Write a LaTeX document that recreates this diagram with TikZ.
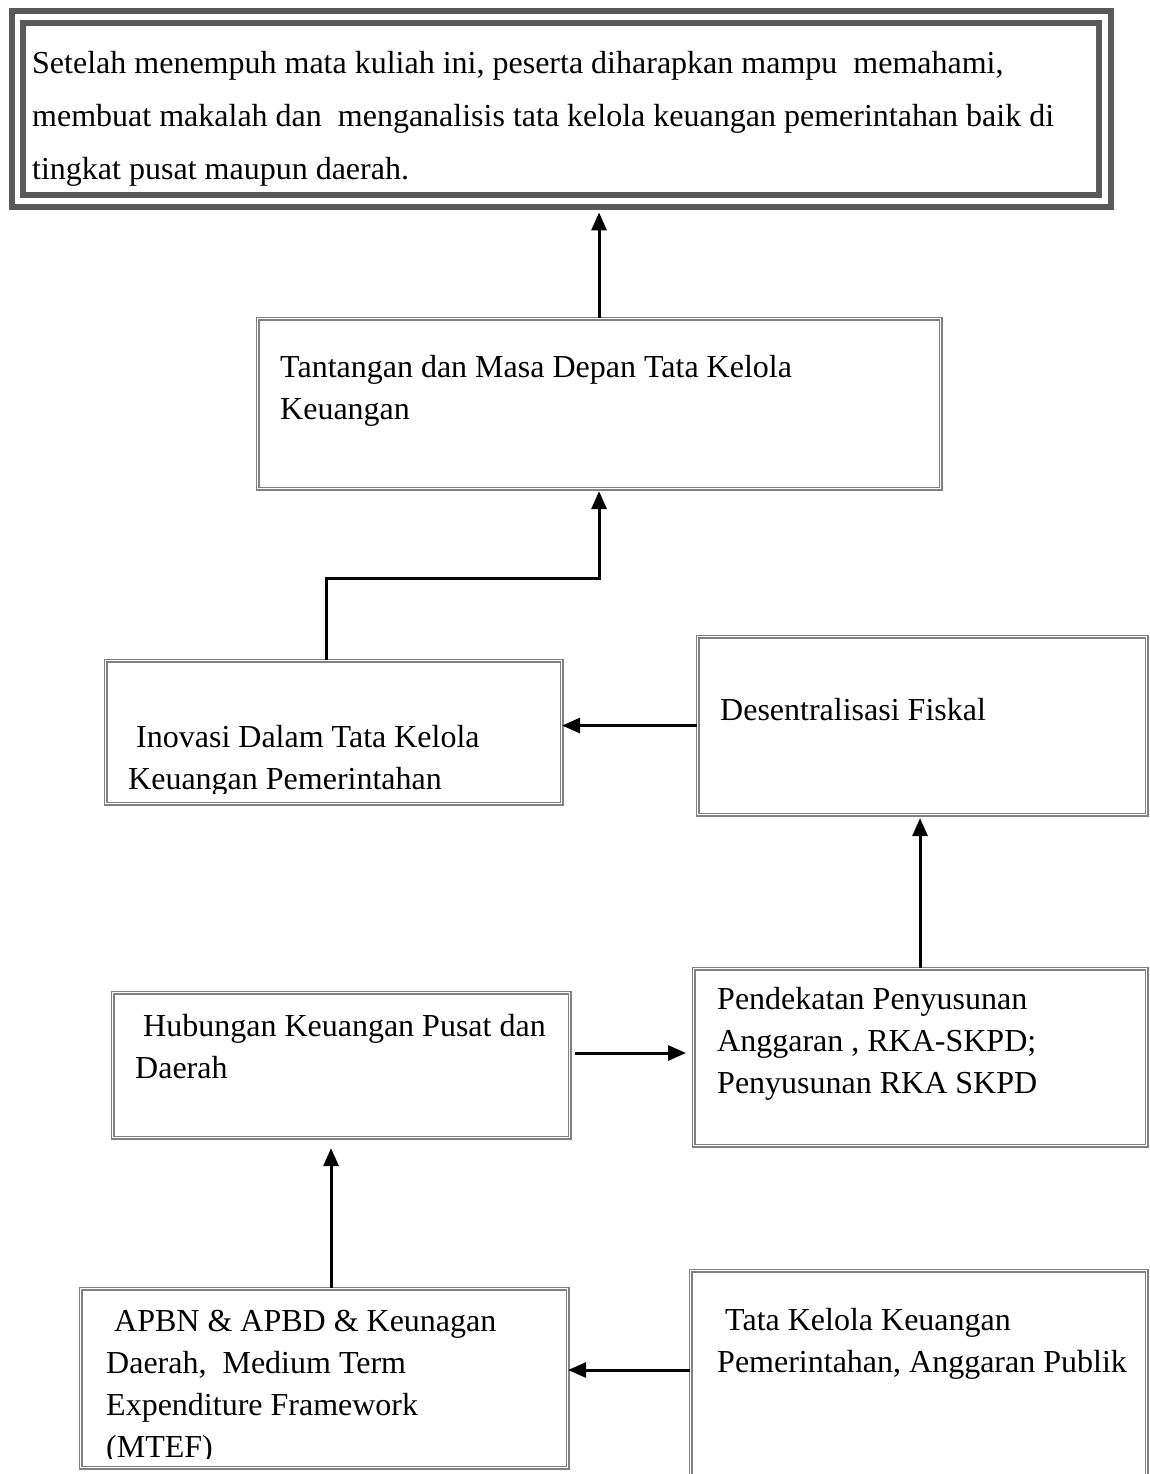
\documentclass[tikz,border=0pt]{standalone}
\usepackage{fontspec}
\setmainfont{Liberation Serif}
\usetikzlibrary{arrows.meta,calc}
\begin{document}
\begin{tikzpicture}[x=1pt,y=-1pt,
  % multi-line texts are placed by the baseline of their last line
  txt/.style={inner sep=0pt, anchor=base west, align=left,
    font=\fontsize{32}{42}\selectfont},
  toptxt/.style={txt, font=\fontsize{32}{53}\selectfont},
  dbox/.style={draw=black!50, double=white, double distance=1.8pt,
    line width=1.1pt, rectangle, inner sep=0pt, anchor=north west},
  arr/.style={line width=3pt, -{Triangle[width=15pt,length=18pt]}},
  goalline/.style={draw=black!65, line width=6pt}
]
\useasboundingbox (0,0) rectangle (1149,1474);

% goal box with its thick double frame
\node[inner sep=0pt, anchor=north west, minimum width=1105pt, minimum height=202pt] (goal) at (9,8) {};
\draw[goalline] (12,11) rectangle (1111,207);
\draw[goalline] (23,23) rectangle (1099,195);
\node[toptxt] (goaltxt) at (32,180) {Setelah menempuh mata kuliah ini, peserta diharapkan mampu\ \ memahami,\\
membuat makalah dan\ \ menganalisis tata kelola keuangan pemerintahan baik di\\
tingkat pusat maupun daerah.};

% topic boxes
\node[dbox, minimum width=683pt, minimum height=170pt] (tan) at (257,318) {};
\node[txt] (tantxt) at (280,419) {Tantangan dan Masa Depan Tata Kelola\\Keuangan};

\node[dbox, minimum width=456pt, minimum height=143pt] (ino) at (105,660) {};
\begin{scope}
  \clip (ino.north west) rectangle ([yshift=11pt]ino.south east);
  \node[txt] (inotxt) at (128,789) {\ Inovasi Dalam Tata Kelola\\Keuangan Pemerintahan};
\end{scope}

\node[dbox, minimum width=449pt, minimum height=178pt] (des) at (697,636) {};
\node[txt] (destxt) at (720,720) {Desentralisasi Fiskal};

\node[dbox, minimum width=457pt, minimum height=145pt] (hub) at (112,992) {};
\node[txt] (hubtxt) at (135,1078) {\ Hubungan Keuangan Pusat dan\\Daerah};

\node[dbox, minimum width=453pt, minimum height=177pt] (pen) at (693,968) {};
\node[txt] (pentxt) at (717,1093) {Pendekatan Penyusunan\\Anggaran , RKA-SKPD;\\Penyusunan RKA SKPD};

\node[dbox, minimum width=487pt, minimum height=179pt] (apb) at (80,1288) {};
\begin{scope}
  \clip (apb.north west) rectangle ([yshift=10pt]apb.south east);
  \node[txt] (apbtxt) at (106,1457) {\ APBN \& APBD \& Keunagan\\Daerah,\ \ Medium Term\\Expenditure Framework\\(MTEF)};
\end{scope}

\node[dbox, minimum width=456pt, minimum height=215pt] (tat) at (690,1270) {};
\node[txt] (tattxt) at (717,1372) {\ Tata Kelola Keuangan\\Pemerintahan, Anggaran Publik};

% connectors
\draw[arr] (tan.north) -- ([yshift=-2pt]goal.south -| tan.north);
\draw[arr] ([xshift=-7pt]ino.north) |- (tan.south |- 0,578) -- ([yshift=-2pt]tan.south);
\draw[arr] (des.west) -- (des.west -| ino.east);
\draw[arr] (pen.north) -- ([yshift=-3pt]des.south -| pen.north);
\draw[arr] ([xshift=5pt]hub.east |- 0,1053) -- ([xshift=-7pt]pen.west |- 0,1053);
\draw[arr] ([xshift=7pt]apb.north) -- ($(apb.north |- hub.south)+(7,10)$);
\draw[arr] (tat.west |- 0,1370) -- (apb.east |- 0,1370);
\end{tikzpicture}
\end{document}
